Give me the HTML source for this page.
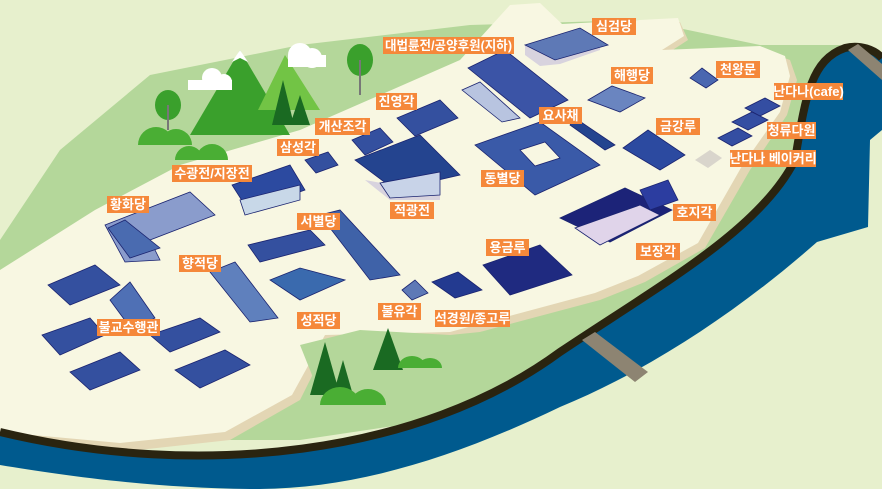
<!DOCTYPE html>
<html><head><meta charset="utf-8"><style>
html,body{margin:0;padding:0;width:882px;height:489px;overflow:hidden;background:#e7f0cd}
svg{display:block}
.l{font-family:"Liberation Sans","Noto Sans CJK KR",sans-serif;font-size:13px;fill:#fff;font-weight:bold}
</style></head><body>
<svg width="882" height="489" viewBox="0 0 882 489" xmlns="http://www.w3.org/2000/svg">
<rect width="882" height="489" fill="#e7f0cd"/>
<!-- green land -->
<path d="M0,240 L60,150 L150,75 L300,45 L470,25 L640,20 L760,45 L840,45 L870,60 L860,200 L800,240 L700,320 L600,360 L500,410 L300,440 L0,440 Z" fill="#b4d79a"/>
<!-- cream plateau edge -->
<path d="M0,275 L95,215 L180,170 L300,135 L460,65 L510,8 L540,5 L565,28 L680,22 L688,40 L665,55 L762,50 L790,60 L797,80 L787,115 L750,170 L705,248 L645,282 L600,300 L450,340 L330,340 L300,400 L230,440 L120,452 L0,440 Z" fill="#e3d6b4"/>
<path d="M0,270 L95,210 L180,165 L300,130 L460,60 L510,5 L540,3 L562,24 L678,18 L684,36 L662,50 L760,46 L785,56 L790,76 L780,112 L742,166 L698,243 L638,276 L595,293 L450,332 L325,335 L292,395 L225,432 L120,443 L0,432 Z" fill="#f8f7e2"/>
<!-- lower green patch -->
<path d="M300,345 L360,330 L450,335 L500,330 L520,400 L420,430 L330,420 Z" fill="#b4d79a"/>
<!-- river -->
<path d="M0,432 C200,480 420,455 560,352 C660,285 760,230 795,160 C805,100 810,60 845,48 C860,44 875,50 882,58 L882,130 L870,140 L868,227 L817,242 C740,310 650,370 560,407 C450,460 350,490 250,489 C150,488 60,475 0,465 Z" fill="#005a8e"/>
<path d="M0,432 C200,480 420,455 560,352 C660,285 760,230 795,160 C805,100 810,60 845,48 C860,44 875,50 882,58" fill="none" stroke="#2a2410" stroke-width="8"/>
<!-- bridges -->
<path d="M582,340 L595,332 L648,372 L635,382 Z" fill="#8d8472"/>
<path d="M848,50 L858,44 L882,64 L882,80 Z" fill="#8d8472"/>
<!-- mountains -->
<path d="M190,135 L240,50 L290,135 Z" fill="#3aa02c"/>
<path d="M232,62 L240,50 L248,62 L240,58Z" fill="#fff"/>
<path d="M258,110 L285,55 L320,110 Z" fill="#72c445"/>
<circle cx="300" cy="55" r="12" fill="#fff"/><circle cx="312" cy="58" r="10" fill="#fff"/><rect x="288" y="55" width="38" height="12" fill="#fff"/>
<circle cx="212" cy="78" r="10" fill="#fff"/><circle cx="224" cy="82" r="8" fill="#fff"/><rect x="188" y="80" width="44" height="10" fill="#fff"/>
<path d="M272,125 L283,80 L294,125Z M290,125 L300,95 L310,125Z" fill="#1a6a22"/>
<ellipse cx="360" cy="60" rx="13" ry="16" fill="#3aa02c"/><rect x="359" y="60" width="2" height="35" fill="#777"/>
<ellipse cx="168" cy="105" rx="13" ry="15" fill="#3aa02c"/><rect x="167" y="105" width="2" height="25" fill="#777"/>
<path d="M138,145 a18,18 0 0 1 36,0Z M160,145 a16,16 0 0 1 32,0Z M175,160 a14,14 0 0 1 28,0Z M196,160 a16,16 0 0 1 32,0Z" fill="#4aae34"/>
<!-- lower trees -->
<path d="M310,395 L325,342 L340,395Z M333,395 L343,360 L353,395Z M373,370 L388,328 L403,370Z" fill="#1a6a22"/>
<path d="M320,405 a20,18 0 0 1 40,0Z M350,405 a18,16 0 0 1 36,0Z M398,368 a14,12 0 0 1 28,0Z M418,368 a12,10 0 0 1 24,0Z" fill="#4aae34"/>
<!-- buildings -->
<g stroke="#1b2470" stroke-width=".8">
<path d="M525,55 L540,66 L560,64 L600,50 L600,40 L525,45Z" fill="#d8d3de" stroke="none"/>
<path d="M525,45 L580,28 L608,45 L555,60Z" fill="#5e79b6"/>
<path d="M468,68 L505,50 L568,100 L530,118Z" fill="#3b54a6"/>
<path d="M462,90 L480,82 L520,118 L502,122Z" fill="#b8c4e0"/>
<path d="M588,100 L612,86 L645,98 L620,112Z" fill="#6a85c0"/>
<path d="M690,78 L702,68 L718,80 L706,88Z" fill="#4a67b0"/>
<path d="M745,108 L765,98 L780,106 L760,116Z M732,122 L752,112 L768,120 L748,130Z M718,138 L738,128 L752,136 L732,146Z" fill="#344ea2"/>
<path d="M397,118 L440,100 L458,118 L415,136Z" fill="#34509f"/>
<path d="M352,140 L380,128 L393,142 L365,155Z" fill="#34509f"/>
<path d="M305,160 L328,152 L338,165 L316,173Z" fill="#34509f"/>
<path d="M365,180 L420,190 L440,180 L440,200 L390,200Z" fill="#d8d3de" stroke="none"/>
<path d="M355,160 L420,135 L460,175 L395,190Z" fill="#24448f"/>
<path d="M380,183 L440,172 L440,195 L390,198Z" fill="#c8d3e8"/>
<path d="M475,145 L540,122 L600,165 L535,195Z" fill="#3a5aa8"/>
<path d="M520,150 L545,142 L560,158 L535,166Z" fill="#f8f7e2"/>
<path d="M575,118 L615,145 L605,150 L570,125Z" fill="#24448f"/>
<path d="M623,148 L648,130 L685,155 L660,170Z" fill="#2c4aa0"/>
<path d="M695,160 L710,150 L722,158 L708,168Z" fill="#d9d5cc" stroke="none"/>
<path d="M560,218 L625,188 L672,210 L610,242Z" fill="#1c2378"/>
<path d="M575,228 L640,205 L660,215 L600,245Z" fill="#e0d4ea"/>
<path d="M640,190 L668,180 L678,200 L650,210Z" fill="#2c3da0"/>
<path d="M232,185 L290,165 L305,190 L248,210Z" fill="#2c4aa0"/>
<path d="M240,200 L300,185 L300,200 L245,215Z" fill="#c8d8e8"/>
<path d="M105,225 L190,192 L215,215 L150,240 L160,260 L125,262Z" fill="#8a9ccc"/>
<path d="M108,228 L125,220 L160,248 L130,258Z" fill="#4a6bb0"/>
<path d="M248,245 L310,230 L325,245 L260,262Z" fill="#34509f"/>
<path d="M320,215 L340,210 L400,275 L370,280Z" fill="#3f62a8"/>
<path d="M270,280 L300,268 L345,280 L300,300Z" fill="#3a6aae"/>
<path d="M210,272 L235,262 L278,318 L250,322Z" fill="#5f80bd"/>
<path d="M483,265 L540,245 L572,275 L510,295Z" fill="#1f2a80"/>
<path d="M432,282 L458,272 L482,290 L455,298Z" fill="#233a90"/>
<path d="M402,290 L415,280 L428,293 L412,300Z" fill="#5e79b6"/>
<path d="M48,285 L95,265 L120,285 L70,305Z" fill="#34509f"/>
<path d="M110,300 L130,282 L155,318 L132,330Z" fill="#4f70b5"/>
<path d="M42,335 L90,318 L105,335 L60,355Z" fill="#34509f"/>
<path d="M70,372 L120,352 L140,370 L90,390Z" fill="#34509f"/>
<path d="M150,335 L200,318 L220,332 L170,352Z" fill="#34509f"/>
<path d="M175,370 L225,350 L250,365 L200,388Z" fill="#34509f"/>
</g>
<!-- labels -->
<g>
<rect x="592" y="18" width="44" height="17" fill="#f5883a"/><text class="l" x="614" y="31" text-anchor="middle">심검당</text>
<rect x="383" y="37" width="131" height="17" fill="#f5883a"/><text class="l" x="448.5" y="50" text-anchor="middle" textLength="127" lengthAdjust="spacingAndGlyphs">대법륜전/공양후원(지하)</text>
<rect x="611" y="67" width="42" height="17" fill="#f5883a"/><text class="l" x="632" y="80" text-anchor="middle">해행당</text>
<rect x="716" y="61" width="44" height="17" fill="#f5883a"/><text class="l" x="738" y="74" text-anchor="middle">천왕문</text>
<rect x="774" y="83" width="69" height="17" fill="#f5883a"/><text class="l" x="808.5" y="96" text-anchor="middle">난다나(cafe)</text>
<rect x="376" y="93" width="41" height="17" fill="#f5883a"/><text class="l" x="396.5" y="106" text-anchor="middle">진영각</text>
<rect x="539" y="107" width="43" height="17" fill="#f5883a"/><text class="l" x="560.5" y="120" text-anchor="middle">요사채</text>
<rect x="656" y="118" width="44" height="17" fill="#f5883a"/><text class="l" x="678" y="131" text-anchor="middle">금강루</text>
<rect x="767" y="122" width="49" height="17" fill="#f5883a"/><text class="l" x="791.5" y="135" text-anchor="middle">청류다원</text>
<rect x="315" y="118" width="55" height="17" fill="#f5883a"/><text class="l" x="342.5" y="131" text-anchor="middle">개산조각</text>
<rect x="277" y="139" width="42" height="17" fill="#f5883a"/><text class="l" x="298" y="152" text-anchor="middle">삼성각</text>
<rect x="730" y="150" width="86" height="17" fill="#f5883a"/><text class="l" x="773" y="163" text-anchor="middle">난다나 베이커리</text>
<rect x="172" y="165" width="80" height="17" fill="#f5883a"/><text class="l" x="212" y="178" text-anchor="middle">수광전/지장전</text>
<rect x="481" y="170" width="43" height="17" fill="#f5883a"/><text class="l" x="502.5" y="183" text-anchor="middle">동별당</text>
<rect x="107" y="196" width="42" height="17" fill="#f5883a"/><text class="l" x="128" y="209" text-anchor="middle">황화당</text>
<rect x="390" y="202" width="44" height="17" fill="#f5883a"/><text class="l" x="412" y="215" text-anchor="middle">적광전</text>
<rect x="673" y="204" width="43" height="17" fill="#f5883a"/><text class="l" x="694.5" y="217" text-anchor="middle">호지각</text>
<rect x="297" y="213" width="43" height="17" fill="#f5883a"/><text class="l" x="318.5" y="226" text-anchor="middle">서별당</text>
<rect x="486" y="239" width="43" height="17" fill="#f5883a"/><text class="l" x="507.5" y="252" text-anchor="middle">용금루</text>
<rect x="636" y="243" width="44" height="17" fill="#f5883a"/><text class="l" x="658" y="256" text-anchor="middle">보장각</text>
<rect x="179" y="255" width="42" height="17" fill="#f5883a"/><text class="l" x="200" y="268" text-anchor="middle">향적당</text>
<rect x="378" y="303" width="43" height="17" fill="#f5883a"/><text class="l" x="399.5" y="316" text-anchor="middle">불유각</text>
<rect x="435" y="310" width="75" height="17" fill="#f5883a"/><text class="l" x="472.5" y="323" text-anchor="middle">석경원/종고루</text>
<rect x="297" y="312" width="43" height="17" fill="#f5883a"/><text class="l" x="318.5" y="325" text-anchor="middle">성적당</text>
<rect x="97" y="319" width="63" height="17" fill="#f5883a"/><text class="l" x="128.5" y="332" text-anchor="middle">불교수행관</text>
</g>
</svg>
</body></html>
